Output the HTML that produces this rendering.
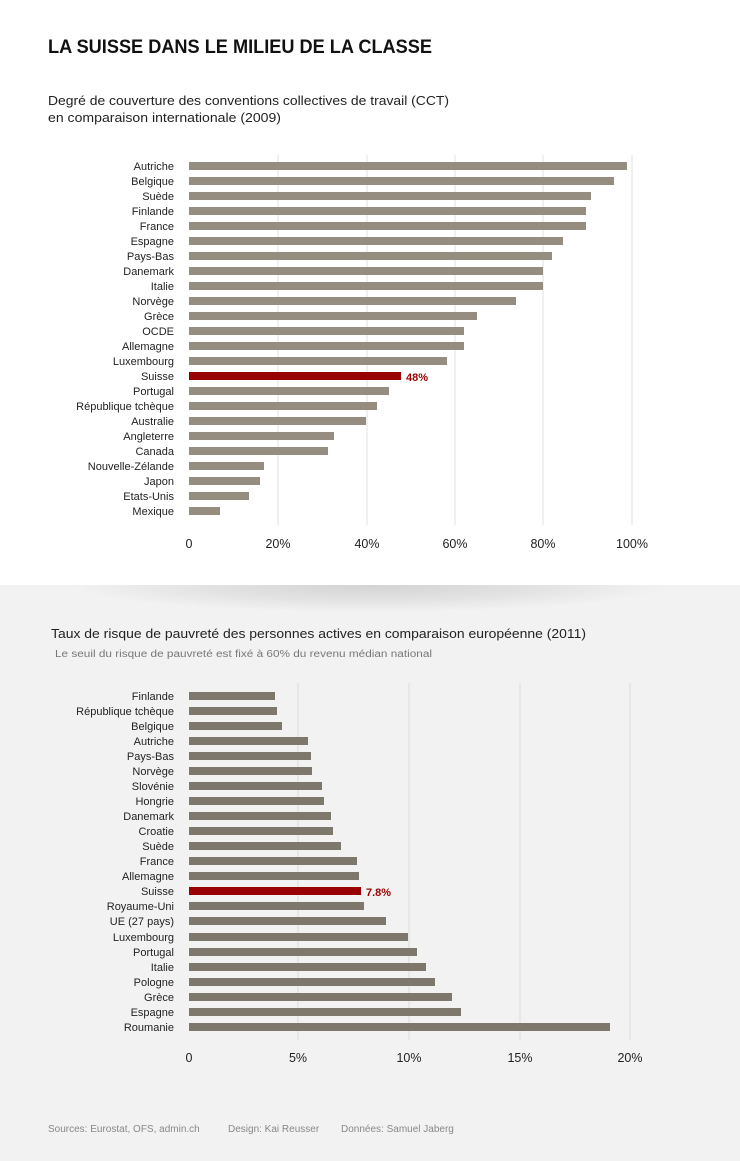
<!DOCTYPE html>
<html><head><meta charset="utf-8"><style>
html,body{margin:0;padding:0;background:#fff}
svg{display:block;font-family:"Liberation Sans",sans-serif}
</style></head><body>
<svg width="740" height="1161" viewBox="0 0 740 1161" xmlns="http://www.w3.org/2000/svg">
<defs>
<radialGradient id="sh" cx="370" cy="585" r="300" gradientUnits="userSpaceOnUse" gradientTransform="translate(0,585) scale(1,0.09) translate(0,-585)">
<stop offset="0" stop-color="#000" stop-opacity="0.13"/><stop offset="0.6" stop-color="#000" stop-opacity="0.06"/><stop offset="1" stop-color="#000" stop-opacity="0"/>
</radialGradient>
</defs>
<rect x="0" y="585" width="740" height="576" fill="#f2f2f2"/>
<rect x="40" y="585" width="660" height="30" fill="url(#sh)"/>
<text x="48" y="53" font-size="19" font-weight="bold" fill="#111" textLength="384" lengthAdjust="spacingAndGlyphs">LA SUISSE DANS LE MILIEU DE LA CLASSE</text>
<text x="48" y="105" font-size="12.5" fill="#222" textLength="401" lengthAdjust="spacingAndGlyphs">Degré de couverture des conventions collectives de travail (CCT)</text>
<text x="48" y="122" font-size="12.5" fill="#222" textLength="233" lengthAdjust="spacingAndGlyphs">en comparaison internationale (2009)</text>
<g stroke="#e2e2e2" stroke-width="1">
<line x1="278" y1="155" x2="278" y2="525"/><line x1="367" y1="155" x2="367" y2="525"/><line x1="455" y1="155" x2="455" y2="525"/><line x1="543" y1="155" x2="543" y2="525"/><line x1="632" y1="155" x2="632" y2="525"/>
</g>
<g font-size="12.5" fill="#222" text-anchor="middle">
<text x="189" y="548">0</text><text x="278" y="548">20%</text><text x="367" y="548">40%</text><text x="455" y="548">60%</text><text x="543" y="548">80%</text><text x="632" y="548">100%</text>
</g>
<text x="51" y="638" font-size="12.5" fill="#222" textLength="535" lengthAdjust="spacingAndGlyphs">Taux de risque de pauvreté des personnes actives en comparaison européenne (2011)</text>
<text x="55" y="657" font-size="10" fill="#777" textLength="377" lengthAdjust="spacingAndGlyphs">Le seuil du risque de pauvreté est fixé à 60% du revenu médian national</text>
<g stroke="#dcdcdc" stroke-width="1">
<line x1="298" y1="683" x2="298" y2="1040"/><line x1="409" y1="683" x2="409" y2="1040"/><line x1="520" y1="683" x2="520" y2="1040"/><line x1="630" y1="683" x2="630" y2="1040"/>
</g>
<g font-size="12.5" fill="#222" text-anchor="middle">
<text x="189" y="1062">0</text><text x="298" y="1062">5%</text><text x="409" y="1062">10%</text><text x="520" y="1062">15%</text><text x="630" y="1062">20%</text>
</g>
<g font-size="10" fill="#888">
<text x="48" y="1132">Sources: Eurostat, OFS, admin.ch</text>
<text x="228" y="1132">Design: Kai Reusser</text>
<text x="341" y="1132">Données: Samuel Jaberg</text>
</g>
<g font-size="11" fill="#222" text-anchor="end">
<text x="174" y="170">Autriche</text><text x="174" y="185">Belgique</text><text x="174" y="200">Suède</text><text x="174" y="215">Finlande</text><text x="174" y="230">France</text><text x="174" y="245">Espagne</text><text x="174" y="260">Pays-Bas</text><text x="174" y="275">Danemark</text><text x="174" y="290">Italie</text><text x="174" y="305">Norvège</text><text x="174" y="320">Grèce</text><text x="174" y="335">OCDE</text><text x="174" y="350">Allemagne</text><text x="174" y="365">Luxembourg</text><text x="174" y="380">Suisse</text><text x="174" y="395">Portugal</text><text x="174" y="410">République tchèque</text><text x="174" y="425">Australie</text><text x="174" y="440">Angleterre</text><text x="174" y="455">Canada</text><text x="174" y="470">Nouvelle-Zélande</text><text x="174" y="485">Japon</text><text x="174" y="500">Etats-Unis</text><text x="174" y="515">Mexique</text>
</g>
<g fill="#948d80">
<rect x="189" y="162" width="438" height="8"/><rect x="189" y="177" width="425" height="8"/><rect x="189" y="192" width="402" height="8"/><rect x="189" y="207" width="397" height="8"/><rect x="189" y="222" width="397" height="8"/><rect x="189" y="237" width="374" height="8"/><rect x="189" y="252" width="363" height="8"/><rect x="189" y="267" width="354" height="8"/><rect x="189" y="282" width="354" height="8"/><rect x="189" y="297" width="327" height="8"/><rect x="189" y="312" width="288" height="8"/><rect x="189" y="327" width="275" height="8"/><rect x="189" y="342" width="275" height="8"/><rect x="189" y="357" width="258" height="8"/><rect x="189" y="387" width="200" height="8"/><rect x="189" y="402" width="188" height="8"/><rect x="189" y="417" width="177" height="8"/><rect x="189" y="432" width="145" height="8"/><rect x="189" y="447" width="139" height="8"/><rect x="189" y="462" width="75" height="8"/><rect x="189" y="477" width="71" height="8"/><rect x="189" y="492" width="60" height="8"/><rect x="189" y="507" width="31" height="8"/>
</g>
<rect x="189" y="372" width="212" height="8" fill="#990000"/>
<text x="406" y="381" font-size="11" font-weight="bold" fill="#990000">48%</text>
<g font-size="11" fill="#222" text-anchor="end">
<text x="174" y="700">Finlande</text><text x="174" y="715">République tchèque</text><text x="174" y="730">Belgique</text><text x="174" y="745">Autriche</text><text x="174" y="760">Pays-Bas</text><text x="174" y="775">Norvège</text><text x="174" y="790">Slovénie</text><text x="174" y="805">Hongrie</text><text x="174" y="820">Danemark</text><text x="174" y="835">Croatie</text><text x="174" y="850">Suède</text><text x="174" y="865">France</text><text x="174" y="880">Allemagne</text><text x="174" y="895">Suisse</text><text x="174" y="910">Royaume-Uni</text><text x="174" y="925">UE (27 pays)</text><text x="174" y="941">Luxembourg</text><text x="174" y="956">Portugal</text><text x="174" y="971">Italie</text><text x="174" y="986">Pologne</text><text x="174" y="1001">Grèce</text><text x="174" y="1016">Espagne</text><text x="174" y="1031">Roumanie</text>
</g>
<g fill="#7d776c">
<rect x="189" y="692" width="86" height="8"/><rect x="189" y="707" width="88" height="8"/><rect x="189" y="722" width="93" height="8"/><rect x="189" y="737" width="119" height="8"/><rect x="189" y="752" width="122" height="8"/><rect x="189" y="767" width="123" height="8"/><rect x="189" y="782" width="133" height="8"/><rect x="189" y="797" width="135" height="8"/><rect x="189" y="812" width="142" height="8"/><rect x="189" y="827" width="144" height="8"/><rect x="189" y="842" width="152" height="8"/><rect x="189" y="857" width="168" height="8"/><rect x="189" y="872" width="170" height="8"/><rect x="189" y="902" width="175" height="8"/><rect x="189" y="917" width="197" height="8"/><rect x="189" y="933" width="219" height="8"/><rect x="189" y="948" width="228" height="8"/><rect x="189" y="963" width="237" height="8"/><rect x="189" y="978" width="246" height="8"/><rect x="189" y="993" width="263" height="8"/><rect x="189" y="1008" width="272" height="8"/><rect x="189" y="1023" width="421" height="8"/>
</g>
<rect x="189" y="887" width="172" height="8" fill="#990000"/>
<text x="366" y="896" font-size="11" font-weight="bold" fill="#990000">7.8%</text>
</svg>
</body></html>
